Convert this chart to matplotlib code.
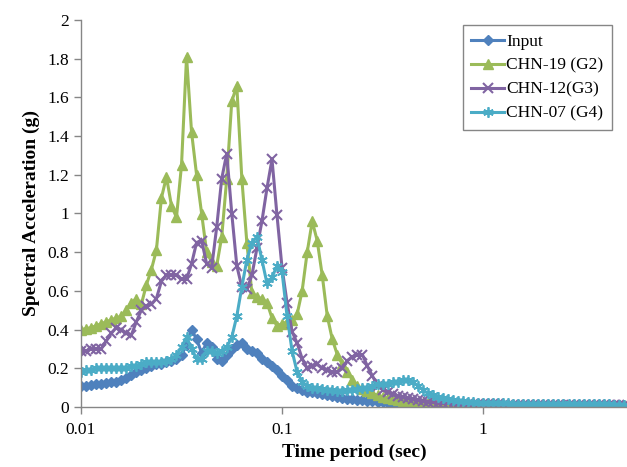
import matplotlib
matplotlib.use("Agg")
import matplotlib.pyplot as plt
from matplotlib.ticker import FixedLocator, FixedFormatter, NullLocator, MultipleLocator, FuncFormatter

# ---- data ----
mant = [1.0, 1.059, 1.122, 1.189, 1.259, 1.334, 1.413, 1.496, 1.585, 1.679,
        1.778, 1.884, 1.995, 2.113, 2.239, 2.371, 2.512, 2.661, 2.818, 2.985,
        3.162, 3.350, 3.548, 3.758, 3.981, 4.217, 4.467, 4.732, 5.012, 5.309,
        5.623, 5.957, 6.310, 6.683, 7.079, 7.499, 7.943, 8.414, 8.913, 9.441]
period = [m * 0.01 for m in mant] + [m * 0.1 for m in mant] + [m * 1.0 for m in mant[:29]]

input_sa = [0.11, 0.11, 0.115, 0.12, 0.12, 0.125, 0.13, 0.13, 0.14, 0.15,
            0.165, 0.18, 0.19, 0.20, 0.21, 0.22, 0.22, 0.23, 0.24, 0.25,
            0.27, 0.32, 0.40, 0.35, 0.28, 0.33, 0.31, 0.25, 0.24, 0.27,
            0.30, 0.32, 0.33, 0.30, 0.29, 0.28, 0.25, 0.23, 0.21, 0.19,
            0.16, 0.14, 0.11, 0.10, 0.09, 0.08, 0.075, 0.07, 0.065, 0.06,
            0.055, 0.05, 0.045, 0.04, 0.04, 0.035, 0.035, 0.03, 0.03, 0.025,
            0.025, 0.022, 0.02, 0.02, 0.018, 0.017, 0.016, 0.015, 0.014, 0.013,
            0.012, 0.012, 0.011, 0.011, 0.010, 0.010, 0.010, 0.009, 0.009, 0.009,
            0.008, 0.008, 0.008, 0.007, 0.007, 0.007, 0.007, 0.006, 0.006, 0.006,
            0.006, 0.006, 0.005, 0.005, 0.005, 0.005, 0.005, 0.005, 0.004, 0.004,
            0.004, 0.004, 0.004, 0.004, 0.004, 0.004, 0.004, 0.004, 0.004]

chn19_g2 = [0.40, 0.405, 0.41, 0.42, 0.43, 0.44, 0.45, 0.46, 0.47, 0.50,
            0.54, 0.56, 0.53, 0.63, 0.71, 0.81, 1.08, 1.19, 1.04, 0.98,
            1.25, 1.81, 1.42, 1.20, 1.00, 0.80, 0.75, 0.73, 0.88, 1.18,
            1.58, 1.66, 1.18, 0.85, 0.59, 0.57, 0.56, 0.54, 0.46, 0.42,
            0.43, 0.44, 0.45, 0.48, 0.60, 0.80, 0.96, 0.86, 0.68, 0.47,
            0.35, 0.27, 0.22, 0.18, 0.14, 0.11, 0.095, 0.085, 0.07, 0.06,
            0.05, 0.045, 0.04, 0.035, 0.03, 0.027, 0.025, 0.023, 0.021, 0.02,
            0.019, 0.017, 0.017, 0.016, 0.016, 0.015, 0.015, 0.015, 0.014, 0.014,
            0.014, 0.013, 0.013, 0.013, 0.013, 0.012, 0.012, 0.012, 0.012, 0.012,
            0.011, 0.011, 0.011, 0.011, 0.011, 0.011, 0.011, 0.011, 0.011, 0.011,
            0.011, 0.011, 0.010, 0.010, 0.010, 0.010, 0.010, 0.010, 0.010]

chn12_g3 = [0.29, 0.29, 0.30, 0.30, 0.30, 0.34, 0.38, 0.41, 0.40, 0.38,
            0.37, 0.44, 0.50, 0.52, 0.53, 0.56, 0.65, 0.68, 0.68, 0.68,
            0.66, 0.66, 0.74, 0.85, 0.86, 0.74, 0.72, 0.93, 1.18, 1.31,
            1.00, 0.73, 0.62, 0.61, 0.68, 0.82, 0.96, 1.13, 1.28, 0.99,
            0.72, 0.54, 0.39, 0.33, 0.25, 0.20, 0.21, 0.22, 0.20, 0.19,
            0.18, 0.18, 0.20, 0.24, 0.26, 0.27, 0.27, 0.21, 0.16, 0.11,
            0.09, 0.08, 0.065, 0.055, 0.05, 0.045, 0.04, 0.035, 0.03, 0.027,
            0.025, 0.022, 0.02, 0.019, 0.018, 0.017, 0.016, 0.015, 0.015, 0.014,
            0.014, 0.013, 0.013, 0.013, 0.012, 0.012, 0.012, 0.012, 0.011, 0.011,
            0.011, 0.011, 0.011, 0.010, 0.010, 0.010, 0.010, 0.010, 0.010, 0.010,
            0.009, 0.009, 0.009, 0.009, 0.009, 0.009, 0.009, 0.009, 0.009]

chn07_g4 = [0.18, 0.19, 0.19, 0.20, 0.20, 0.20, 0.20, 0.20, 0.20, 0.20,
            0.21, 0.21, 0.22, 0.23, 0.23, 0.23, 0.23, 0.24, 0.25, 0.27,
            0.31, 0.36, 0.30, 0.25, 0.25, 0.29, 0.29, 0.28, 0.29, 0.31,
            0.36, 0.47, 0.62, 0.76, 0.85, 0.88, 0.76, 0.64, 0.67, 0.73,
            0.70, 0.47, 0.29, 0.18, 0.13, 0.11, 0.10, 0.10, 0.095, 0.09,
            0.09, 0.085, 0.085, 0.09, 0.09, 0.095, 0.10, 0.10, 0.11, 0.12,
            0.12, 0.12, 0.13, 0.13, 0.14, 0.14, 0.13, 0.11, 0.09, 0.07,
            0.06, 0.05, 0.045, 0.04, 0.035, 0.03, 0.03, 0.027, 0.025, 0.023,
            0.022, 0.021, 0.02, 0.02, 0.019, 0.019, 0.018, 0.018, 0.017, 0.017,
            0.016, 0.016, 0.016, 0.015, 0.015, 0.015, 0.015, 0.014, 0.014, 0.014,
            0.014, 0.013, 0.013, 0.013, 0.013, 0.013, 0.012, 0.012, 0.012]

labels = ["Input", "CHN-19 (G2)", "CHN-12(G3)", "CHN-07 (G4)"]
xticks = [0.01, 0.1, 1]
xtick_labels = ["0.01", "0.1", "1"]

# ---- plot ----
plt.rcParams['font.family'] = ['Liberation Serif', 'DejaVu Serif']
fig = plt.figure(figsize=(6.27, 4.67), dpi=100)
ax = fig.add_axes([81 / 627, 60 / 467, 546 / 627, 387 / 467])

lw = 2.2
ax.plot(period, input_sa, color='#4F81BD', lw=lw, marker='D', ms=5.5, mec='#4F81BD', label=labels[0])
ax.plot(period, chn19_g2, color='#9BBB59', lw=lw, marker='^', ms=7, mec='#9BBB59', label=labels[1])
ax.plot(period, chn12_g3, color='#8064A2', lw=lw, marker='x', ms=6.5, mew=1.5, label=labels[2])
ax.plot(period, chn07_g4, color='#4BACC6', lw=lw, marker=(6, 2, 0), ms=7.5, mew=1.3, label=labels[3])

ax.set_xscale('log')
ax.set_xlim(0.01, 5.2)
ax.set_ylim(0, 2)
ax.xaxis.set_major_locator(FixedLocator(xticks))
ax.xaxis.set_major_formatter(FixedFormatter(xtick_labels))
ax.xaxis.set_minor_locator(NullLocator())
ax.yaxis.set_major_locator(MultipleLocator(0.2))
ax.yaxis.set_major_formatter(FuncFormatter(lambda v, p: '%g' % round(v, 1)))

for s in ['top', 'right']:
    ax.spines[s].set_visible(False)
for s in ['left', 'bottom']:
    ax.spines[s].set_color('#868686')
    ax.spines[s].set_linewidth(1.0)
ax.tick_params(axis='both', colors='#868686', labelcolor='black', labelsize=12.5, length=5, width=1.0)
ax.tick_params(axis='x', pad=6)

ax.set_xlabel('Time period (sec)', fontsize=14, fontweight='bold', labelpad=4)
ax.set_ylabel('Spectral Acceleration (g)', fontsize=14, fontweight='bold', labelpad=5)

leg = ax.legend(loc='upper right', bbox_to_anchor=(0.9725, 0.987), fontsize=12.5,
                fancybox=False, edgecolor='#868686', framealpha=1, borderaxespad=0,
                handlelength=1.9, labelspacing=0.45, handletextpad=0.1, borderpad=0.5)
leg.get_frame().set_linewidth(1.0)

fig.savefig('out.png', dpi=100)
